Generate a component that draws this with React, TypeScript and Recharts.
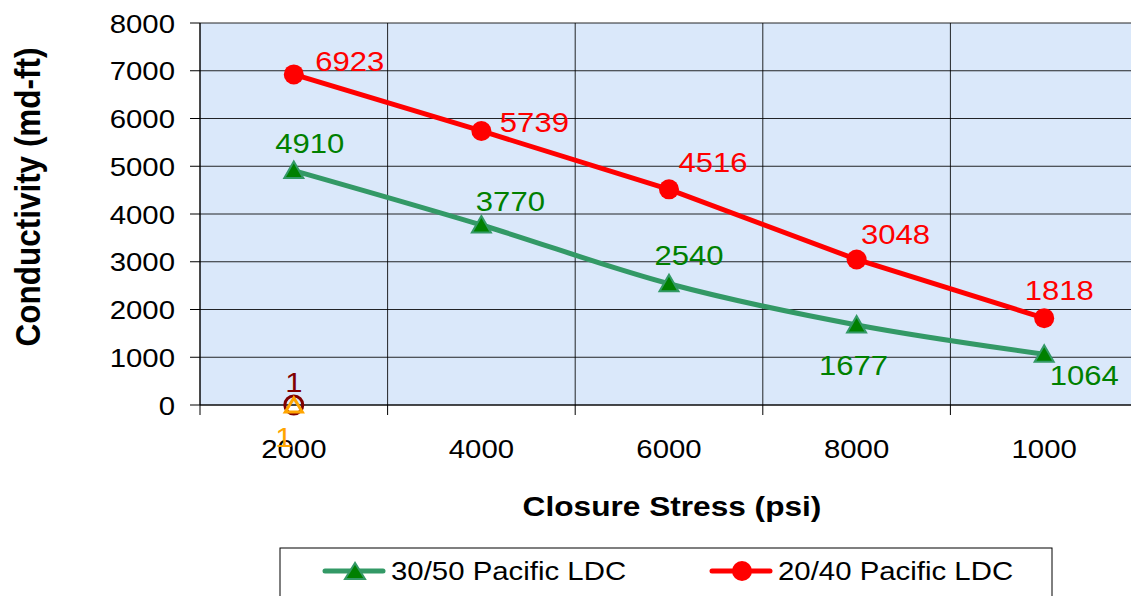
import { ComposedChart, Line, XAxis, YAxis, CartesianGrid, LabelList } from 'recharts'

const stressLabels = ['2000', '4000', '6000', '8000', '1000']
const pacific3050 = [4910, 3770, 2540, 1677, 1064]
const pacific2040 = [6923, 5739, 4516, 3048, 1818]
const strayCircle = [1, null, null, null, null]
const strayTriangle = [1, null, null, null, null]
const yTicks = [0, 1000, 2000, 3000, 4000, 5000, 6000, 7000, 8000]

const data = stressLabels.map((s, i) => ({
  stress: s,
  green: pacific3050[i],
  red: pacific2040[i],
  circle: strayCircle[i],
  tri: strayTriangle[i],
}))

// where each value label sits relative to its point (dx to text centre, dy to baseline)
const greenLabelOffsets = [[16, -18], [29, -14], [20, -19], [-3, 50], [40, 31]]
const redLabelOffsets = [[56, -3], [53, 1], [44, -17], [39, -15], [15, -18]]

const FONT = '"Liberation Sans", Arial, sans-serif'
const STRETCH = 1.13
const GREEN_LINE = '#339966'
const GREEN_MARK = '#008000'
const RED = '#ff0000'

function SText({ x, y, size, fill = '#000', bold = false, anchor = 'middle', rotate = false, children }: any) {
  return (
    <text
      transform={`translate(${x},${y}) scale(${STRETCH},1)${rotate ? ' rotate(-90)' : ''}`}
      textAnchor={anchor}
      fontSize={size}
      fontWeight={bold ? 'bold' : 'normal'}
      fill={fill}
      fontFamily={FONT}
    >
      {children}
    </text>
  )
}

const valueLabel = (offsets: number[][], color: string) => (props: any) => {
  const { x, y, value, index } = props
  if (value == null || x == null || y == null) return null
  const [dx, dy] = offsets[index] || [0, -12]
  return (
    <SText key={`l${index}`} x={x + dx} y={y + dy} size={27.5} fill={color}>
      {value}
    </SText>
  )
}

const Triangle = (props: any) => {
  const { cx, cy, index } = props
  if (cx == null || cy == null || props.value == null) return <g key={`t${index}`} />
  return (
    <polygon
      key={`t${index}`}
      points={`${cx},${cy - 9} ${cx - 9.5},${cy + 7.5} ${cx + 9.5},${cy + 7.5}`}
      fill={GREEN_MARK}
      stroke={GREEN_LINE}
      strokeWidth={2}
    />
  )
}

const HollowTriangle = (props: any) => {
  const { cx, cy, index } = props
  if (cx == null || cy == null || props.value == null) return <g key={`h${index}`} />
  return (
    <polygon
      key={`h${index}`}
      points={`${cx},${cy - 7} ${cx - 8.5},${cy + 7} ${cx + 8.5},${cy + 7}`}
      fill="none"
      stroke="#ffa500"
      strokeWidth={3}
    />
  )
}

// category boundaries: the grid and the tick marks sit between categories, as in Excel
const bandEdges = ({ offset }: any) =>
  stressLabels.map((_, i) => offset.left + (i * offset.width) / stressLabels.length).concat(offset.left + offset.width)

const XTick = (props: any) => {
  const { x, y, payload, index, width } = props
  const band = (width || 938) / stressLabels.length
  const left = x - band / 2
  return (
    <g>
      <line x1={left} y1={y} x2={left} y2={y + 10} stroke="#000" />
      {index === stressLabels.length - 1 && <line x1={left + band} y1={y} x2={left + band} y2={y + 10} stroke="#000" />}
      <SText x={x} y={y + 53} size={26}>
        {payload.value}
      </SText>
    </g>
  )
}

const YTick = (props: any) => {
  const { x, y, payload } = props
  return (
    <SText x={x} y={y + 9.5} size={26} anchor="end">
      {payload.value}
    </SText>
  )
}

function LegendBox() {
  return (
    <svg width={1131} height={596} style={{ position: 'absolute', left: 0, top: 0, pointerEvents: 'none' }}>
      <rect x={280} y={548} width={772} height={80} fill="#fff" stroke="#000" strokeWidth={1} />
      <line x1={325} y1={571} x2={383} y2={571} stroke={GREEN_LINE} strokeWidth={5} strokeLinecap="round" />
      <polygon points="355,563 345,579 365,579" fill={GREEN_MARK} stroke={GREEN_LINE} strokeWidth={2} />
      <SText x={391} y={580} size={26} anchor="start">30/50 Pacific LDC</SText>
      <line x1={712} y1={571} x2={770} y2={571} stroke={RED} strokeWidth={5} strokeLinecap="round" />
      <circle cx={742} cy={571} r={10} fill={RED} />
      <SText x={778} y={580} size={26} anchor="start">20/40 Pacific LDC</SText>
    </svg>
  )
}

export default function App() {
  return (
    <div style={{ position: 'fixed', left: 0, top: 0, width: 1131, height: 596, overflow: 'hidden', background: '#fff' }}>
      <ComposedChart width={1160} height={596} data={data} margin={{ top: 23, right: 22, left: 0, bottom: 0 }}>
        <CartesianGrid
          fill="#dae8fa"
          stroke="#000"
          strokeOpacity={0.85}
          verticalCoordinatesGenerator={bandEdges}
        />
        <XAxis
          dataKey="stress"
          scale="band"
          height={191}
          tickLine={false}
          tickSize={0}
          tickMargin={0}
          axisLine={{ stroke: '#000' }}
          tick={<XTick />}
          interval={0}
          label={{
            content: () => (
              <SText x={672} y={516} size={28} bold>
                Closure Stress (psi)
              </SText>
            ),
          }}
        />
        <YAxis
          width={200}
          domain={[0, 8000]}
          ticks={yTicks}
          interval={0}
          tickSize={10}
          tickMargin={15}
          tickLine={{ stroke: '#000' }}
          axisLine={{ stroke: '#000' }}
          tick={<YTick />}
          label={{
            content: () => (
              <SText x={40} y={197} size={31.5} bold rotate>
                Conductivity (md-ft)
              </SText>
            ),
          }}
        />
        <Line
          dataKey="green"
          type="monotone"
          stroke={GREEN_LINE}
          strokeWidth={5}
          dot={Triangle}
          activeDot={false}
          isAnimationActive={false}
        >
          <LabelList dataKey="green" content={valueLabel(greenLabelOffsets, GREEN_MARK)} />
        </Line>
        <Line
          dataKey="red"
          type="linear"
          stroke={RED}
          strokeWidth={5}
          dot={{ r: 10, fill: RED, stroke: 'none' }}
          activeDot={false}
          isAnimationActive={false}
        >
          <LabelList dataKey="red" content={valueLabel(redLabelOffsets, RED)} />
        </Line>
        <Line
          dataKey="circle"
          stroke="#800000"
          dot={{ r: 9, fill: 'none', stroke: '#800000', strokeWidth: 3 }}
          activeDot={false}
          isAnimationActive={false}
        >
          <LabelList dataKey="circle" content={valueLabel([[0, -13]], '#800000')} />
        </Line>
        <Line
          dataKey="tri"
          stroke="#ffa500"
          dot={HollowTriangle}
          activeDot={false}
          isAnimationActive={false}
        >
          <LabelList dataKey="tri" content={valueLabel([[-10, 42]], '#ffa500')} />
        </Line>
      </ComposedChart>
      <LegendBox />
    </div>
  )
}
